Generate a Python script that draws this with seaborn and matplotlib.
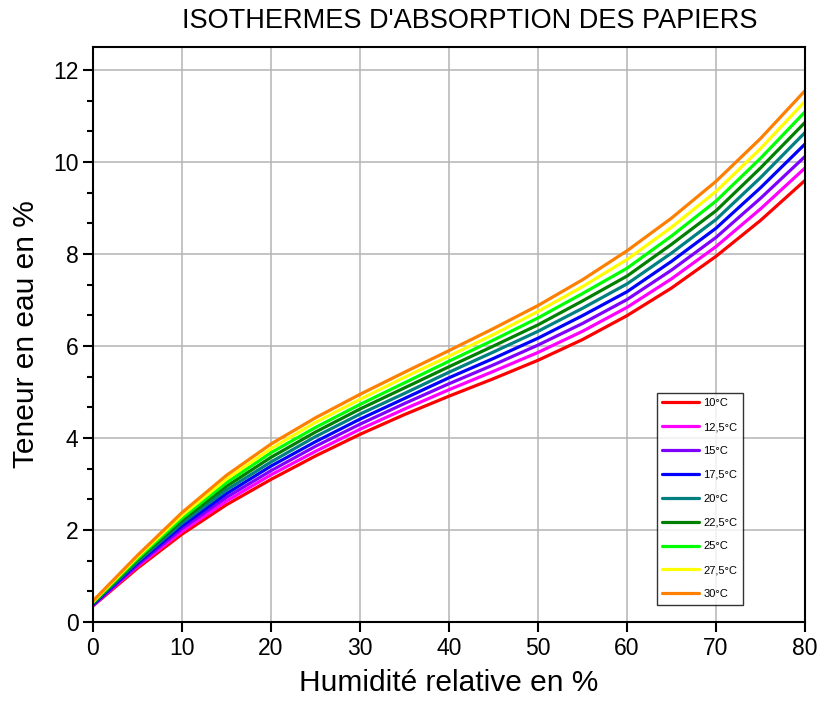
import pandas as pd
import seaborn as sns
import matplotlib.pyplot as plt
from matplotlib.ticker import MultipleLocator

# relative humidity (%)
humidity = [0, 5, 10, 15, 20, 25, 30, 35, 40, 45, 50, 55, 60, 65, 70, 75, 80]

# water content (%), one list per temperature
t10 = [0.35, 1.17, 1.91, 2.55, 3.10, 3.61, 4.08, 4.51, 4.91, 5.29, 5.69, 6.14, 6.66, 7.26, 7.95, 8.73, 9.60]
t12_5 = [0.36, 1.21, 1.97, 2.63, 3.20, 3.71, 4.19, 4.63, 5.05, 5.45, 5.86, 6.32, 6.84, 7.46, 8.16, 8.98, 9.87]
t15 = [0.37, 1.24, 2.03, 2.71, 3.29, 3.82, 4.30, 4.75, 5.18, 5.59, 6.02, 6.49, 7.01, 7.65, 8.36, 9.21, 10.12]
t17_5 = [0.38, 1.28, 2.09, 2.79, 3.39, 3.92, 4.41, 4.86, 5.31, 5.73, 6.17, 6.66, 7.18, 7.84, 8.56, 9.44, 10.39]
t20 = [0.40, 1.31, 2.15, 2.87, 3.48, 4.03, 4.52, 4.97, 5.43, 5.87, 6.32, 6.82, 7.35, 8.02, 8.75, 9.66, 10.64]
t22_5 = [0.41, 1.35, 2.21, 2.95, 3.58, 4.13, 4.63, 5.09, 5.55, 6.00, 6.46, 6.98, 7.52, 8.21, 8.94, 9.87, 10.86]
t25 = [0.43, 1.38, 2.26, 3.03, 3.68, 4.23, 4.73, 5.20, 5.67, 6.13, 6.61, 7.14, 7.69, 8.39, 9.15, 10.08, 11.09]
t27_5 = [0.44, 1.42, 2.32, 3.11, 3.77, 4.34, 4.84, 5.32, 5.78, 6.25, 6.75, 7.29, 7.88, 8.58, 9.36, 10.29, 11.32]
t30 = [0.46, 1.45, 2.38, 3.19, 3.87, 4.44, 4.95, 5.43, 5.90, 6.38, 6.88, 7.44, 8.07, 8.78, 9.58, 10.51, 11.55]

labels = ['10°C', '12,5°C', '15°C', '17,5°C', '20°C', '22,5°C', '25°C', '27,5°C', '30°C']
series = [t10, t12_5, t15, t17_5, t20, t22_5, t25, t27_5, t30]
colors = ['#FF0000', '#FF00FF', '#8000FF', '#0000FF', '#008080',
          '#008000', '#00FF00', '#FFFF00', '#FF8000']

# long format for seaborn
df = pd.DataFrame({
    'humidite': humidity * len(series),
    'teneur': [v for s in series for v in s],
    'temp': [lab for lab in labels for _ in humidity],
})

sns.set_style('white')
plt.rcParams['font.family'] = ['Liberation Sans', 'DejaVu Sans']
plt.rcParams['text.color'] = 'black'
plt.rcParams['axes.labelcolor'] = 'black'
plt.rcParams['xtick.color'] = 'black'
plt.rcParams['ytick.color'] = 'black'

fig = plt.figure(figsize=(8.2, 7.1), dpi=100)
ax = fig.add_axes([0.1134, 0.1239, 0.8683, 0.8099])

sns.lineplot(data=df, x='humidite', y='teneur', hue='temp', hue_order=labels,
             palette=dict(zip(labels, colors)), linewidth=2.3, ax=ax,
             estimator=None, sort=True)

ax.set_xlim(0, 80)
ax.set_ylim(0, 12.5)
ax.xaxis.set_major_locator(MultipleLocator(10))
ax.yaxis.set_major_locator(MultipleLocator(2))
ax.yaxis.set_minor_locator(MultipleLocator(2 / 3))
ax.grid(True, which='major', color='#b4b4b4', linewidth=1.1)
ax.set_axisbelow(True)

for sp in ax.spines.values():
    sp.set_color('black')
    sp.set_linewidth(1.5)

ax.tick_params(axis='both', which='major', direction='out', length=7, width=1.5,
               labelsize=16.5, color='black', left=True, bottom=True)
ax.tick_params(axis='y', which='minor', direction='out', length=4, width=1.5,
               left=True, color='black')

ax.set_xlabel('Humidité relative en %', fontsize=21.5, labelpad=7)
ax.set_ylabel('Teneur en eau en %', fontsize=21.5, labelpad=9)
fig.text(0.573, 0.97, "ISOTHERMES D'ABSORPTION DES PAPIERS", fontsize=19.5,
         ha='center', va='center')

leg = ax.legend(loc='lower left', bbox_to_anchor=(0.792, 0.03), fontsize=8,
                frameon=True, fancybox=False, edgecolor='black',
                handlelength=3.3, handletextpad=0.4, labelspacing=1.25,
                borderpad=0.5, borderaxespad=0)
leg.get_frame().set_linewidth(1.0)
for ln in leg.get_lines():
    ln.set_linewidth(2.3)

plt.savefig('out.png', dpi=100)
